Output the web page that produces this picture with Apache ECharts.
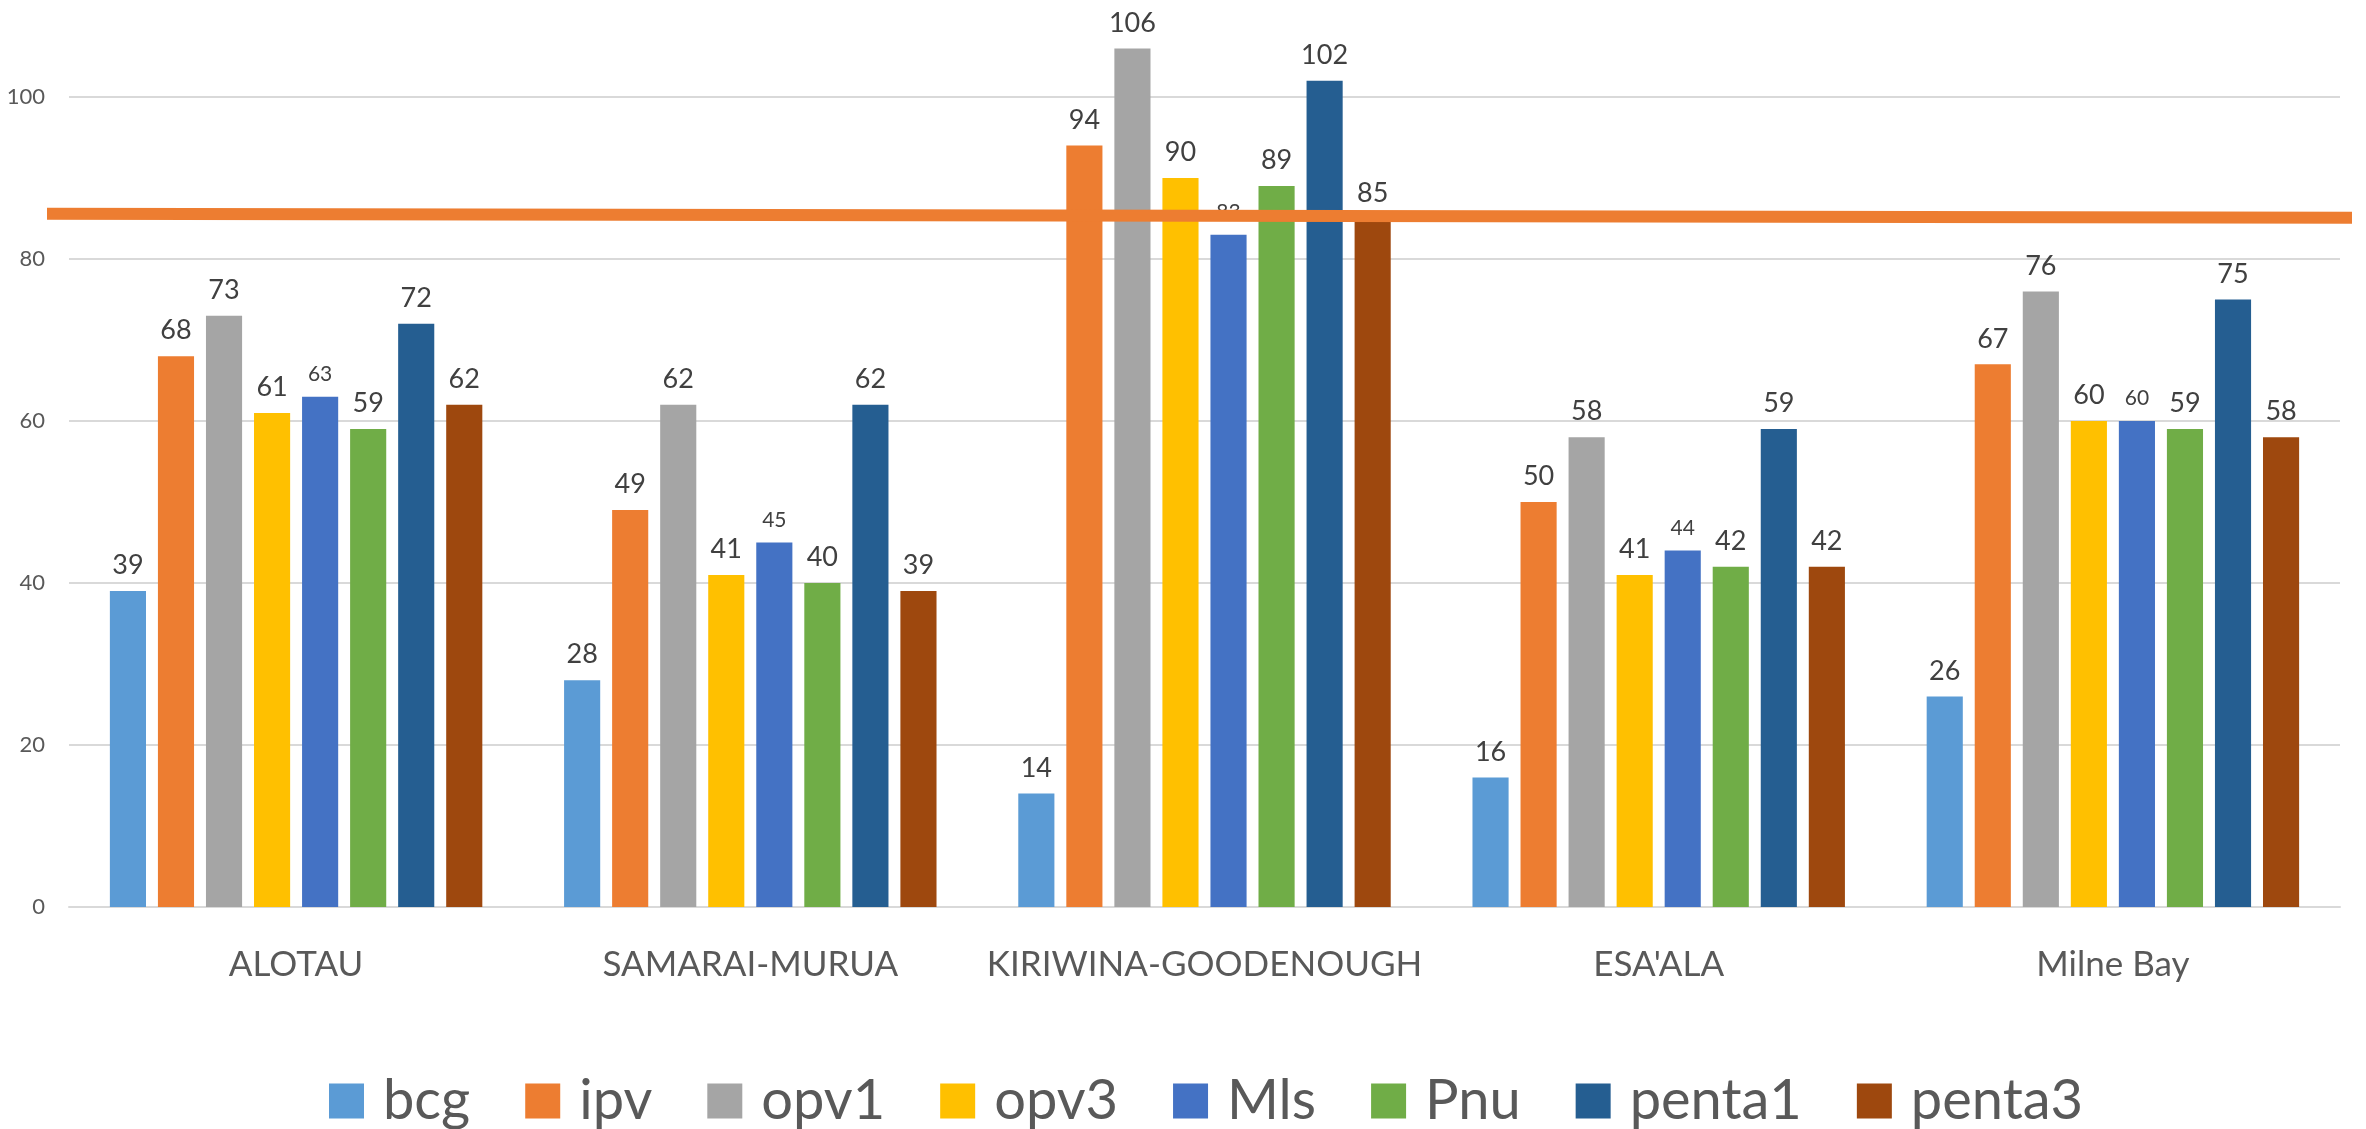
<!DOCTYPE html>
<html>
<head>
<meta charset="utf-8">
<script src="https://cdn.jsdelivr.net/npm/echarts@6/dist/echarts.min.js"></script>
<style>
html,body{margin:0;padding:0;background:#fff;}
#main{width:2366px;height:1129px;}
</style>
</head>
<body>
<div id="main"></div>
<script>
// districts
var districts = ['ALOTAU', 'SAMARAI-MURUA', 'KIRIWINA-GOODENOUGH', "ESA'ALA", 'Milne Bay'];
var antigens = ['bcg', 'ipv', 'opv1', 'opv3', 'Mls', 'Pnu', 'penta1', 'penta3'];
var colors = ['#5B9BD5', '#ED7D31', '#A5A5A5', '#FFC000', '#4472C4', '#70AD47', '#255E91', '#9E480E'];

var bcg    = [39, 28, 14, 16, 26];
var ipv    = [68, 49, 94, 50, 67];
var opv1   = [73, 62, 106, 58, 76];
var opv3   = [61, 41, 90, 41, 60];
var Mls    = [63, 45, 83, 44, 60];
var Pnu    = [59, 40, 89, 42, 59];
var penta1 = [72, 62, 102, 59, 75];
var penta3 = [62, 39, 85, 42, 58];

// target line (drawn across the plot, slight slope)
var targetX = [0, 1];
var targetY = [85.6, 85.1];

var yTicks = [0, 20, 40, 60, 80, 100, 120];

var values = [bcg, ipv, opv1, opv3, Mls, Pnu, penta1, penta3];
var font = 'Lato, "Open Sans", sans-serif';

var series = [];
antigens.forEach(function(name, i) {
	series.push({
		name : name,
		type : 'bar',
		data : values[i],
		barGap : '33%',
		barCategoryGap : '18%',
		itemStyle : { color : colors[i] },
		label : {
			show : true,
			position : 'top',
			distance : 12,
			color : '#404040',
			fontFamily : font,
			fontSize : name == 'Mls' ? 21 : 27
		}
	});
});
var line = [];
for (var k = 0; k < targetX.length; k++) line.push([targetX[k], targetY[k]]);
series.push({
	name : 'target',
	type : 'line',
	xAxisIndex : 1,
	yAxisIndex : 1,
	data : line,
	symbol : 'none',
	z : 10,
	silent : true,
	lineStyle : { color : '#ED7D31', width : 12 }
});

var option = {
	animation : false,
	backgroundColor : '#fff',
	grid : [
		{ left : 69, right : 26, top : -65, bottom : 222, outerBoundsMode : 'none' },
		{ left : 47, right : 14, top : -65, bottom : 222, outerBoundsMode : 'none' }
	],
	legend : {
		data : antigens,
		left : 324,
		top : 1068,
		itemWidth : 35,
		itemHeight : 35,
		itemGap : 55,
		icon : 'rect',
		textStyle : { fontSize : 56, color : '#595959', fontFamily : font, padding : [0, 0, 0, 14] }
	},
	xAxis : [
		{
			type : 'category',
			data : districts,
			axisTick : { show : false },
			axisLine : { lineStyle : { color : '#D9D9D9', width : 2 } },
			axisLabel : { interval : 0, margin : 40, fontSize : 35, color : '#595959', fontFamily : font }
		},
		{ type : 'value', gridIndex : 1, min : 0, max : 1, show : false }
	],
	yAxis : [
		{
			type : 'value',
			min : yTicks[0],
			max : yTicks[yTicks.length - 1],
			interval : 20,
			axisLine : { show : false },
			axisTick : { show : false },
			splitLine : { lineStyle : { color : '#D9D9D9', width : 2 } },
			axisLabel : { margin : 24, fontSize : 22, color : '#595959', fontFamily : font }
		},
		{ type : 'value', gridIndex : 1, min : 0, max : 120, show : false }
	],
	series : series
};

var myChart = echarts.init(document.getElementById('main'));
myChart.setOption(option);
</script>
</body>
</html>
